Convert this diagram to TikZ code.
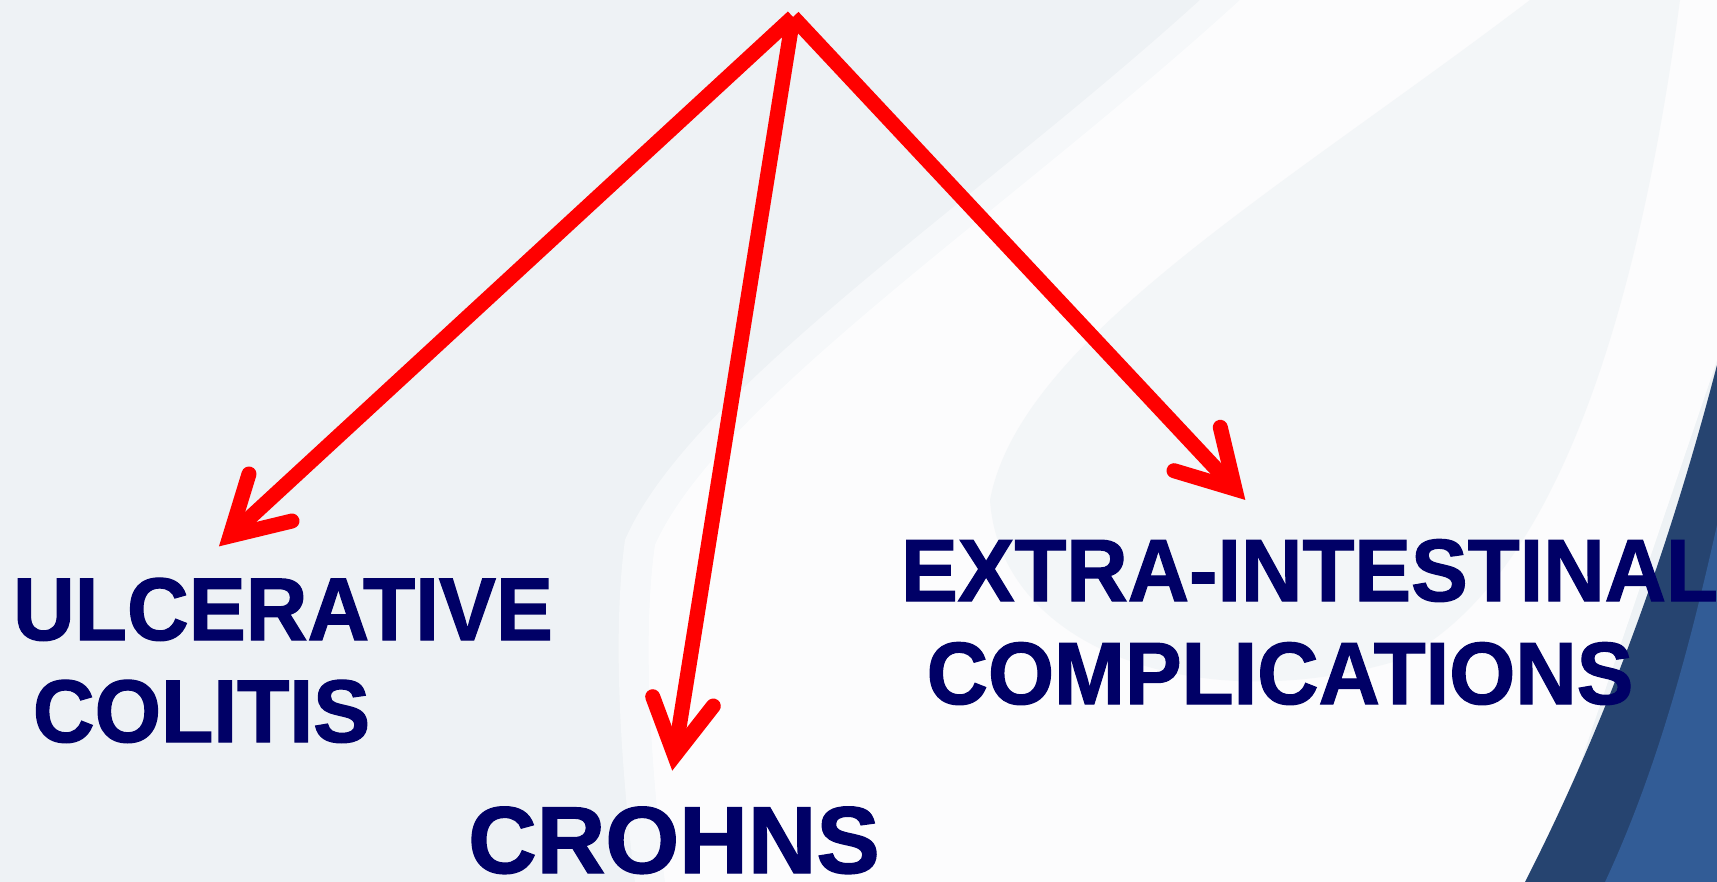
\documentclass[tikz,border=0pt]{standalone}
\usepackage{fontspec}
\usepackage{graphicx}
\setmainfont{Liberation Sans}
\newfontfamily\lblfont{Liberation Sans Bold}[FakeBold=1.4]
\newcommand{\talltext}[1]{\scalebox{1}[1.04]{#1}}
\definecolor{bgcol}{RGB}{238,242,245}
\definecolor{arrowred}{RGB}{255,0,0}
\definecolor{navytext}{RGB}{0,0,102}
\definecolor{banddark}{RGB}{38,68,112}
\definecolor{bandlight}{RGB}{50,92,150}
\tikzset{
  shaft/.style={draw=arrowred, line width=15pt, line cap=butt},
  barb/.style={draw=arrowred, line width=15pt, line cap=round, line join=miter, miter limit=10},
  lbl/.style={anchor=base, inner sep=0pt, text=navytext, font=\lblfont\fontsize{85.5}{90}\selectfont},
  lblbig/.style={lbl, font=\lblfont\fontsize{95}{100}\selectfont},
  lblei/.style={lbl, font=\lblfont\fontsize{85}{90}\selectfont}
}
\begin{document}
\begin{tikzpicture}[x=1pt,y=-1pt]
\useasboundingbox (0,0) rectangle (1717,882);
% background
\fill[bgcol] (0,0) rectangle (1717,882);
\fill[white, opacity=0.5] (1200,0) .. controls (980,200) and (690,390) .. (625,540) .. controls (610,650) and (625,800) .. (635,882) -- (1540,882) -- (1717,360) -- (1717,0) -- cycle;
\fill[white, opacity=0.7] (1240,0) .. controls (1010,210) and (720,400) .. (655,545) .. controls (640,650) and (655,800) .. (665,882) -- (1540,882) -- (1717,360) -- (1717,0) -- cycle;
\fill[bgcol, opacity=0.6] (1530,0) .. controls (1280,190) and (1020,340) .. (990,500) .. controls (1000,650) and (1200,720) .. (1400,660) .. controls (1560,580) and (1640,300) .. (1680,0) -- cycle;
\fill[banddark] (1717,365) .. controls (1665,565) and (1600,735) .. (1525,882) -- (1717,882) -- cycle;
\fill[bandlight] (1717,525) .. controls (1688,655) and (1655,775) .. (1605,882) -- (1717,882) -- cycle;
% points
\coordinate (apex) at (793,17);
\coordinate (uc-tip) at (230,536);
\coordinate (uc-b1) at (249,474);
\coordinate (uc-b2) at (292,521);
\coordinate (cr-tip) at (674.6,755.5);
\coordinate (cr-b1) at (652.7,696.7);
\coordinate (cr-b2) at (713.3,706);
\coordinate (ei-tip) at (1235,489);
\coordinate (ei-b1) at (1220.3,427.3);
\coordinate (ei-b2) at (1174,470.7);
% labels
\node[lbl] (uc1) at (283,640) {\talltext{ULCERATIVE}};
\node[lbl] (uc2) at (201.5,742) {\talltext{COLITIS}};
\node[lblbig] (cr) at (674,873) {CROHNS};
\node[lblei] (ei1) at (1309.5,601) {\talltext{EXTRA-INTESTINAL}};
\node[lblei] (ei2) at (1280,704) {\talltext{COMPLICATIONS}};
% arrows
\draw[shaft] (apex) -- (uc-tip);
\draw[barb] (uc-b1) -- (uc-tip) -- (uc-b2);
\draw[shaft] (apex) -- (cr-tip);
\draw[barb] (cr-b1) -- (cr-tip) -- (cr-b2);
\draw[shaft] (apex) -- (ei-tip);
\draw[barb] (ei-b1) -- (ei-tip) -- (ei-b2);
\end{tikzpicture}
\end{document}
